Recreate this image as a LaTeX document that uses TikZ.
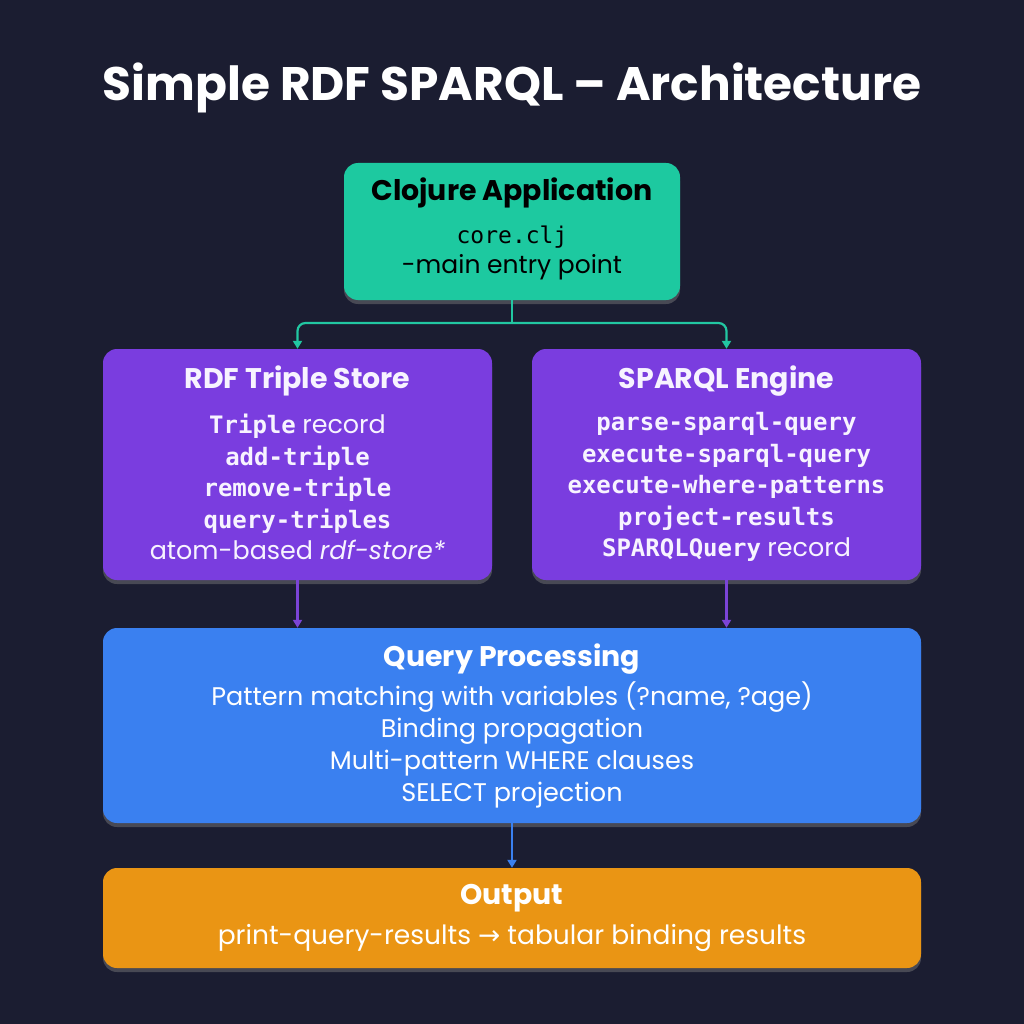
\documentclass[tikz,border=0pt]{standalone}
\usepackage{fontspec}
\setmainfont{Poppins}
\setmonofont{DejaVu Sans Mono}
\newfontfamily\bodyfont{Poppins}
\usetikzlibrary{arrows.meta,shadows}
\definecolor{bg}{HTML}{1B1D31}
\definecolor{tealbox}{HTML}{1DC9A0}
\definecolor{tealline}{HTML}{22C7A2}
\definecolor{purplebox}{HTML}{7A3DDF}
\definecolor{purpleline}{HTML}{7B44D6}
\definecolor{bluebox}{HTML}{3A80F0}
\definecolor{blueline}{HTML}{3A80F0}
\definecolor{orangebox}{HTML}{EA9514}
\definecolor{lighttext}{HTML}{F7F3FF}
\newcommand{\cod}[1]{{\ttfamily\bfseries #1}}
\begin{document}
\begin{tikzpicture}[x=1pt,y=-1pt,
  box/.style={rounded corners=14pt, inner sep=0pt, draw=none,
    drop shadow={opacity=0.45, shadow xshift=0pt, shadow yshift=-4pt}},
  head/.style={font=\fontsize{28.4}{32}\selectfont\bfseries, text=lighttext, inner sep=0pt},
  bodytxt/.style={align=center, text=lighttext, inner sep=0pt},
  arr/.style={line width=2.2pt, -{Triangle[length=8pt,width=9pt]}}
]
\useasboundingbox (0,0) rectangle (1024,1024);
\fill[bg] (0,0) rectangle (1024,1024);

\node[font=\fontsize{47}{52}\selectfont\bfseries, text=white, inner sep=0pt] (title) at (512,88) {Simple RDF SPARQL – Architecture};

% boxes
\node[box, fill=tealbox, minimum width=336pt, minimum height=137pt] (app) at (512,231.5) {};
\node[box, fill=purplebox, minimum width=389pt, minimum height=231pt] (rdf) at (297.5,464.5) {};
\node[box, fill=purplebox, minimum width=389pt, minimum height=231pt] (eng) at (726.5,464.5) {};
\node[box, fill=bluebox, minimum width=818pt, minimum height=195pt] (qp) at (512,725.5) {};
\node[box, fill=orangebox, minimum width=818pt, minimum height=100pt] (out) at (512,918) {};

% texts
\node[head, text=black] (appH) at (512,193) {Clojure Application};
\node[bodytxt, text=black, font=\fontsize{25}{30}\selectfont] (appB) at (512,253)
  {{\ttfamily\fontsize{23}{30}\selectfont core.clj}\\
   {\bodyfont -main entry point}};

\node[head] (rdfH) at (297.5,381) {RDF Triple Store};
\node[bodytxt, font=\fontsize{24}{31.5}\selectfont] (rdfB) at (297.5,487)
  {\cod{Triple} {\bodyfont\fontsize{25.4}{31.5}\selectfont record}\\
   \cod{add-triple}\\
   \cod{remove-triple}\\
   \cod{query-triples}\\
   {\bodyfont\fontsize{25.4}{31.5}\selectfont atom-based \itshape rdf-store*}};

\node[head] (engH) at (726.5,381) {SPARQL Engine};
\node[bodytxt, font=\fontsize{24}{31.5}\selectfont] (engB) at (726.5,487)
  {\cod{parse-sparql-query}\\
   \cod{execute-sparql-query}\\
   \cod{execute-where-patterns}\\
   \cod{project-results}\\
   \cod{SPARQLQuery} {\bodyfont\fontsize{25.4}{31.5}\selectfont record}};

\node[head, text=white] (qpH) at (512,659) {Query Processing};
\node[bodytxt, text=white, font=\bodyfont\fontsize{25.5}{32}\selectfont] (qpB) at (512,745)
  {Pattern matching with variables (?name, ?age)\\
   Binding propagation\\
   Multi-pattern WHERE clauses\\
   SELECT projection};

\node[head, text=white] (outH) at (512,898) {Output};
\node[bodytxt, text=white, font=\bodyfont\fontsize{26.5}{30}\selectfont] (outB) at (512,938)
  {print-query-results {\fontspec{DejaVu Sans}→} tabular binding results};

% connectors
\coordinate (split) at (512,323);
\draw[tealline, line width=2.2pt] (app.south) -- (split);
\draw[tealline, arr, rounded corners=8pt] (split) -| (rdf.north);
\draw[tealline, arr, rounded corners=8pt] (split) -| (eng.north);
\draw[purpleline, arr] (rdf.south) -- (rdf.south |- qp.north);
\draw[purpleline, arr] (eng.south) -- (eng.south |- qp.north);
\draw[blueline, arr] (qp.south) -- (out.north);
\end{tikzpicture}
\end{document}
